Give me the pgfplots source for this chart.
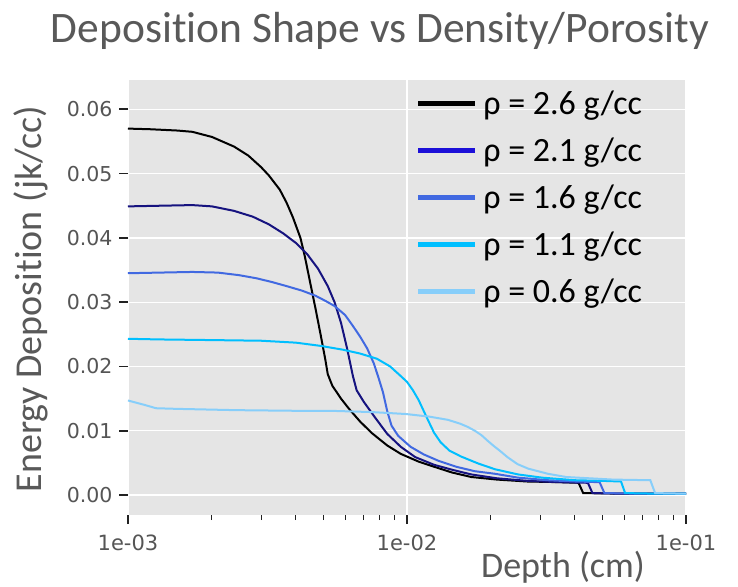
\documentclass[border=0pt]{standalone}
\usepackage{pgfplots}
\pgfplotsset{compat=1.18}
\usepackage{pgfplotstable}
\usepackage{fontspec}
\setmainfont{Carlito}[Ligatures={NoCommon}]
\newfontfamily\dejavu{DejaVu Sans}

\definecolor{bggrey}{HTML}{E5E5E5}
\definecolor{labgrey}{HTML}{595959}
\definecolor{tickgrey}{HTML}{555555}
\definecolor{tickdark}{HTML}{222222}
\definecolor{navyline}{HTML}{16137F}
\definecolor{navyleg}{HTML}{1C10D8}
\definecolor{royal}{HTML}{4169E1}
\definecolor{deepsky}{HTML}{00BFFF}
\definecolor{lightsky}{HTML}{87CEFA}

% depth (cm) vs energy deposition (jk/cc)
\pgfplotstableread{
x y
0.0010 0.0570
0.0012 0.0569
0.0015 0.0567
0.0017 0.0565
0.0020 0.0557
0.0024 0.0542
0.0027 0.0528
0.0030 0.0510
0.0032 0.0497
0.0035 0.0475
0.0037 0.0455
0.0039 0.0432
0.00415 0.0400
0.0043 0.0372
0.0045 0.0330
0.0047 0.0290
0.0049 0.0250
0.0051 0.0210
0.0052 0.0188
0.0054 0.0170
0.0058 0.0150
0.0062 0.0134
0.0068 0.0114
0.0075 0.0096
0.0085 0.0077
0.0095 0.0064
0.0110 0.0052
0.0125 0.0044
0.0145 0.0035
0.0170 0.0028
0.0210 0.0024
0.0270 0.0021
0.0350 0.0020
0.0412 0.0019
0.0428 0.0003
0.0600 0.0002
0.1000 0.0002
}\rhoA

\pgfplotstableread{
x y
0.0010 0.0449
0.0013 0.0450
0.0017 0.0451
0.0020 0.0449
0.0024 0.0442
0.0028 0.0433
0.0032 0.0421
0.0036 0.0407
0.0040 0.0392
0.0044 0.0374
0.0048 0.0352
0.0052 0.0325
0.0055 0.0300
0.0058 0.0268
0.0061 0.0228
0.0064 0.0185
0.0066 0.0163
0.0070 0.0145
0.0077 0.0120
0.0085 0.0095
0.0095 0.0075
0.0107 0.0059
0.0125 0.0047
0.0146 0.0039
0.0170 0.0032
0.0210 0.0026
0.0270 0.0022
0.0350 0.0020
0.0445 0.0019
0.0462 0.0003
0.0600 0.0002
0.1000 0.0002
}\rhoB

\pgfplotstableread{
x y
0.0010 0.0345
0.0013 0.0346
0.0017 0.0347
0.0021 0.0346
0.0025 0.0342
0.0029 0.0337
0.0033 0.0331
0.0037 0.0325
0.0042 0.0318
0.0047 0.0310
0.0051 0.0302
0.0055 0.0294
0.0060 0.0280
0.0064 0.0263
0.0068 0.0246
0.0072 0.0228
0.0076 0.0205
0.0079 0.0183
0.0082 0.0160
0.0085 0.0130
0.0088 0.0108
0.0093 0.0092
0.0103 0.0075
0.0115 0.0063
0.0130 0.0053
0.0150 0.0044
0.0175 0.0037
0.0207 0.0033
0.0250 0.0027
0.0320 0.0023
0.0400 0.0021
0.0490 0.0020
0.0510 0.0003
0.0700 0.0002
0.1000 0.0002
}\rhoC

\pgfplotstableread{
x y
0.0010 0.0243
0.0013 0.0242
0.0020 0.0241
0.0030 0.0240
0.0040 0.0237
0.0049 0.0232
0.0059 0.0226
0.0068 0.0220
0.0078 0.0212
0.0087 0.0200
0.0095 0.0185
0.0100 0.0176
0.0105 0.0163
0.0110 0.0148
0.0115 0.0130
0.0120 0.0113
0.0125 0.0097
0.0132 0.0082
0.0142 0.0069
0.0156 0.0060
0.0180 0.0049
0.0207 0.0040
0.0250 0.0032
0.0305 0.0027
0.0400 0.0023
0.0500 0.0022
0.0585 0.0021
0.0605 0.0003
0.0800 0.0002
0.1000 0.0002
}\rhoD

\pgfplotstableread{
x y
0.0010 0.0147
0.00115 0.0140
0.00126 0.0135
0.0015 0.0134
0.00244 0.0132
0.0040 0.0131
0.0053 0.0131
0.0075 0.0129
0.0099 0.0126
0.0120 0.0122
0.0140 0.0117
0.0155 0.0111
0.0165 0.0106
0.0175 0.0100
0.0185 0.0093
0.0195 0.0084
0.0205 0.0076
0.0215 0.0069
0.0229 0.0059
0.0249 0.0048
0.0272 0.0041
0.0320 0.0033
0.0372 0.0028
0.0547 0.0024
0.0745 0.0023
0.0775 0.0003
0.1000 0.0002
}\rhoE

\begin{document}
\begin{tikzpicture}
\path[use as bounding box] (-128pt,-71pt) rectangle (610pt,515pt);
\begin{axis}[
    at={(0pt,0pt)}, anchor=south west,
    scale only axis,
    width=558pt, height=435pt,
    xmode=log,
    xmin=1e-3, xmax=1e-1,
    ymin=-0.00311, ymax=0.06456,
    axis lines*=left,
    separate axis lines,
    axis background/.style={fill=bggrey},
    every inner x axis line/.append style={draw=none},
    every inner y axis line/.append style={draw=none},
    every outer x axis line/.append style={draw=none},
    every outer y axis line/.append style={draw=none},
    xmajorgrids, ymajorgrids,
    major grid style={draw=white, line width=1.3pt},
    tick align=outside,
    major tick length=9pt, minor tick length=5pt,
    tick style={draw=tickdark},
    major tick style={line width=1.8pt},
    minor tick style={line width=1pt},
    xtick={0.001,0.01,0.1},
    xticklabels={1e-03,1e-02,1e-01},
    minor xtick={0.002,0.003,0.004,0.005,0.006,0.007,0.008,0.009,0.02,0.03,0.04,0.05,0.06,0.07,0.08,0.09},
    ytick={0,0.01,0.02,0.03,0.04,0.05,0.06},
    minor ytick={},
    scaled y ticks=false,
    /pgf/number format/fixed,
    /pgf/number format/fixed zerofill,
    /pgf/number format/precision=2,
    /pgf/number format/assume math mode=true,
    x tick label style={font=\dejavu\fontsize{21}{24}\selectfont, text=tickgrey, yshift=-7pt},
    y tick label style={font=\dejavu\fontsize{20.5}{24}\selectfont, text=tickgrey, xshift=-3pt},
    legend image code/.code={\draw[#1] (0pt,0pt) -- (57pt,0pt);},
    legend cell align=left,
    legend style={at={(0.51,0.985)}, anchor=north west, draw=none, fill=none,
        font=\fontsize{34}{40}\selectfont, row sep=18pt,
        nodes={inner ysep=2pt, inner xsep=6pt}},
]
\addplot[forget plot, black, line width=2pt] table {\rhoA};
\addplot[forget plot, navyline, line width=2pt] table {\rhoB};
\addplot[forget plot, royal, line width=2pt] table {\rhoC};
\addplot[forget plot, deepsky, line width=2pt] table {\rhoD};
\addplot[forget plot, lightsky, line width=2pt] table {\rhoE};
\addlegendimage{black, line width=4.5pt}
\addlegendentry{ρ = 2.6 g/cc}
\addlegendimage{navyleg, line width=4.5pt}
\addlegendentry{ρ = 2.1 g/cc}
\addlegendimage{royal, line width=4.5pt}
\addlegendentry{ρ = 1.6 g/cc}
\addlegendimage{deepsky, line width=4.5pt}
\addlegendentry{ρ = 1.1 g/cc}
\addlegendimage{lightsky, line width=4.5pt}
\addlegendentry{ρ = 0.6 g/cc}
\end{axis}
\node[anchor=base, text=labgrey, font=\fontsize{43.5}{50}\selectfont] at (252pt,472pt) {Deposition Shape vs Density/Porosity};
\node[anchor=base, rotate=90, text=labgrey, font=\fontsize{38}{44}\selectfont] at (-86pt,216pt) {Energy Deposition (jk/cc)};
\node[anchor=base, text=labgrey, font=\fontsize{36}{42}\selectfont] at (435pt,-62pt) {Depth (cm)};
\end{tikzpicture}
\end{document}
